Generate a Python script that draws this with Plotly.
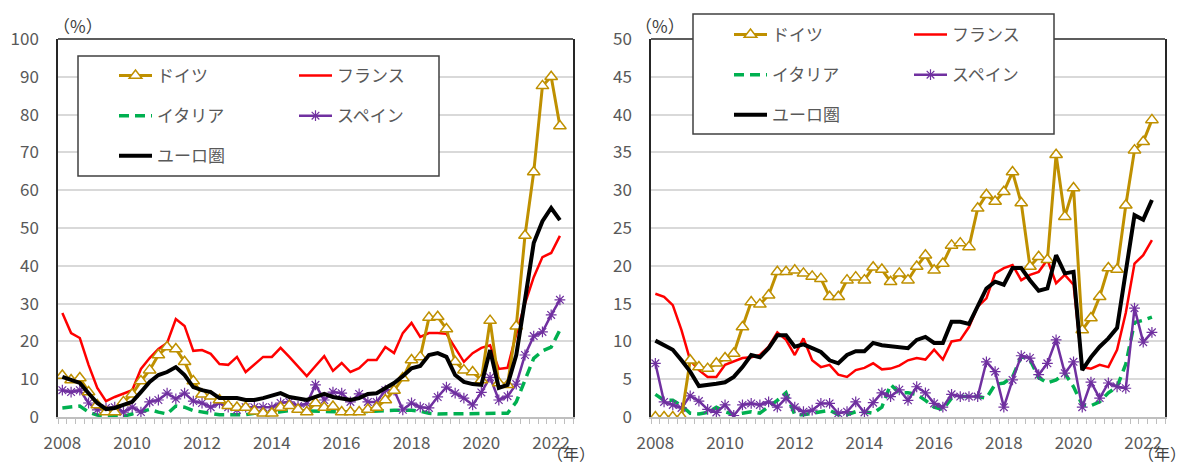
import plotly.graph_objects as go

# Quarterly observations, 2008Q1 - 2022Q2
quarters = [f"{y}Q{q}" for y in range(2008, 2023) for q in range(1, 5)][:58]
year_labels = ["2008", "2010", "2012", "2014", "2016", "2018", "2020", "2022"]

series_names = ["ドイツ", "フランス", "イタリア", "スペイン", "ユーロ圏"]

# Left panel (%)
germany_a = [11.0, 9.8, 10.3, 6.6, 3.2, 1.3, 1.3, 4.0, 6.0, 9.5,
             12.4, 16.4, 18.5, 18.0, 14.6, 9.5, 6.0, 5.5, 4.5, 3.0,
             2.5, 2.5, 1.5, 1.0, 1.0, 2.5, 3.0, 2.0, 1.3, 3.7,
             2.5, 2.8, 1.3, 1.3, 1.3, 2.0, 2.5, 4.5, 7.0, 10.3,
             15.1, 15.9, 26.3, 26.5, 23.3, 14.6, 12.4, 11.9, 9.8, 25.5,
             9.0, 8.5, 24.0, 48.0, 64.8, 87.6, 90.0, 77.0]
france_a = [27.5, 22.2, 20.9, 13.8, 7.7, 4.2, 5.3, 6.1, 7.1, 12.7,
            15.6, 18.0, 19.6, 25.9, 24.1, 17.5, 17.7, 16.7, 14.0, 13.8,
            15.9, 11.9, 14.0, 15.9, 15.9, 18.3, 15.9, 13.2, 10.8, 13.5,
            16.1, 12.2, 14.3, 11.9, 12.9, 15.1, 15.1, 18.5, 16.9, 22.2,
            24.9, 21.2, 22.2, 22.2, 22.0, 18.3, 14.6, 16.9, 18.3, 19.0,
            12.7, 13.0, 22.0, 30.0, 37.0, 42.3, 43.4, 47.9]
italy_a = [2.4, 2.6, 2.9, 1.3, 0.5, 0.2, 0.3, 0.2, 0.8, 1.3,
           2.0, 1.3, 0.8, 2.9, 2.6, 1.7, 1.3, 0.8, 0.6, 0.6,
           0.5, 0.6, 1.0, 1.0, 1.0, 1.4, 1.7, 1.7, 1.6, 1.5,
           1.5, 1.4, 1.3, 1.3, 1.3, 1.5, 1.7, 1.7, 1.8, 1.8,
           1.8, 1.5, 1.0, 0.8, 0.8, 0.8, 0.8, 0.8, 0.8, 0.8,
           0.8, 1.0, 4.0, 9.5, 15.5, 17.5, 18.5, 23.0]
spain_a = [7.1, 6.6, 7.1, 3.7, 1.9, 2.4, 2.6, 1.3, 2.6, 1.3,
           4.0, 4.5, 6.3, 4.8, 6.3, 4.2, 3.7, 2.6, 3.7, 2.6,
           1.9, 2.6, 2.6, 2.6, 2.6, 3.7, 4.0, 2.9, 3.5, 8.5,
           4.5, 6.6, 6.3, 4.0, 6.1, 4.0, 4.0, 7.1, 7.1, 1.9,
           3.7, 2.6, 2.4, 5.3, 7.9, 6.3, 5.0, 3.2, 6.5, 10.5,
           4.5, 5.5, 8.7, 16.4, 21.4, 22.5, 27.0, 31.0]
euro_a = [10.6, 9.8, 9.0, 6.3, 3.7, 2.1, 2.4, 3.2, 4.0, 6.6,
          9.3, 11.1, 11.9, 13.2, 11.1, 7.9, 7.1, 6.6, 5.0, 5.0,
          5.0, 4.5, 4.5, 5.0, 5.6, 6.3, 5.3, 5.0, 4.5, 5.3,
          6.1, 5.3, 5.0, 4.5, 5.0, 6.1, 6.3, 7.7, 9.0, 10.8,
          12.9, 13.5, 16.4, 16.9, 15.9, 11.1, 9.3, 8.7, 8.5, 17.7,
          7.7, 8.5, 16.4, 31.0, 46.0, 51.8, 55.3, 52.1]

# Right panel (%)
germany_b = [0.0, 0.0, 0.0, 0.0, 7.5, 6.6, 6.4, 7.1, 7.8, 8.4,
             11.9, 15.2, 14.9, 16.1, 19.2, 19.2, 19.4, 19.0, 18.6, 18.3,
             15.9, 15.9, 18.1, 18.5, 18.1, 19.8, 19.5, 17.9, 19.0, 18.1,
             19.9, 21.4, 19.4, 20.3, 22.7, 23.0, 22.5, 27.6, 29.4, 28.5,
             29.8, 32.4, 28.3, 19.9, 21.2, 20.8, 34.7, 26.5, 30.3, 11.5,
             13.1, 15.9, 19.7, 19.5, 28.0, 35.3, 36.4, 39.3]
france_b = [16.3, 15.9, 14.8, 11.5, 7.5, 6.2, 5.3, 5.3, 6.9, 7.3,
            7.8, 7.9, 8.2, 9.3, 11.2, 10.2, 8.2, 10.4, 7.5, 6.6,
            6.9, 5.6, 5.3, 6.2, 6.5, 7.1, 6.3, 6.4, 6.8, 7.5,
            7.8, 7.6, 8.9, 7.6, 10.0, 10.2, 11.9, 14.6, 15.7, 19.0,
            19.7, 20.1, 18.1, 18.8, 19.2, 20.8, 17.7, 18.8, 17.5, 6.6,
            6.4, 6.9, 6.6, 8.9, 13.8, 20.3, 21.4, 23.4]
italy_b = [3.0, 2.2, 2.2, 1.5, 0.5, 0.4, 0.6, 1.3, 0.7, 0.3,
           0.5, 0.7, 0.5, 1.3, 2.2, 3.2, 0.3, 0.3, 0.5, 0.7,
           0.9, 0.3, 0.3, 0.7, 0.7, 0.5, 1.3, 4.3, 3.2, 3.2,
           3.0, 2.2, 1.3, 1.0, 2.5, 2.7, 2.7, 2.7, 2.5, 4.3,
           4.5, 5.3, 8.0, 7.6, 5.2, 4.5, 4.9, 5.8, 4.0, 1.6,
           1.5, 2.0, 3.2, 4.0, 7.0, 12.5, 12.8, 13.2]
spain_b = [7.1, 2.0, 1.6, 1.2, 2.8, 2.1, 1.0, 0.6, 1.6, 0.2,
           1.6, 1.8, 1.6, 2.0, 1.3, 2.5, 1.3, 0.7, 0.9, 1.8,
           1.8, 0.5, 0.7, 2.0, 0.6, 1.9, 3.2, 2.7, 3.6, 2.2,
           4.0, 3.2, 1.8, 1.3, 3.0, 2.7, 2.7, 2.7, 7.3, 6.0,
           1.3, 4.9, 8.1, 7.8, 5.6, 7.1, 10.2, 5.8, 7.3, 1.3,
           4.6, 2.5, 4.5, 4.0, 3.8, 14.4, 9.9, 11.2]
euro_b = [10.1, 9.5, 8.9, 7.5, 6.0, 4.1, 4.2, 4.4, 4.6, 5.3,
          6.6, 8.2, 7.9, 9.1, 10.8, 10.8, 9.3, 9.6, 9.1, 8.6,
          7.5, 7.1, 8.2, 8.7, 8.7, 9.8, 9.5, 9.4, 9.3, 9.1,
          10.2, 10.6, 9.8, 9.8, 12.6, 12.6, 12.3, 14.6, 17.0, 17.9,
          17.5, 19.7, 19.7, 18.1, 16.7, 17.0, 21.4, 19.0, 19.2, 6.2,
          7.9, 9.3, 10.4, 11.8, 19.0, 26.7, 26.1, 28.7]

FONT = "Noto Sans CJK JP"
TEXT = "#595959"
GRID = "#d9d9d9"
W, H = 1189, 464

x_idx = list(range(len(quarters)))
year_pos = [quarters.index(f"{y}Q1") for y in year_labels]

styles = {
    "ドイツ": dict(line=dict(color="#BF9000", width=3),
                 mode="lines+markers",
                 marker=dict(symbol="triangle-up", size=11, color="white",
                             line=dict(color="#BF9000", width=1.5))),
    "フランス": dict(line=dict(color="#FF0000", width=2.5), mode="lines"),
    "イタリア": dict(line=dict(color="#00B050", width=3.5, dash="10px,6px"), mode="lines"),
    "スペイン": dict(line=dict(color="#7030A0", width=2.5),
                  mode="lines+markers",
                  marker=dict(symbol="asterisk", size=9, color="#7030A0",
                              line=dict(color="#7030A0", width=1.2))),
    "ユーロ圏": dict(line=dict(color="#000000", width=4), mode="lines"),
}

panels = [
    dict(xa="x", ya="y", data=[germany_a, france_a, italy_a, spain_a, euro_a],
         legs=("legend", "legend2")),
    dict(xa="x2", ya="y2", data=[germany_b, france_b, italy_b, spain_b, euro_b],
         legs=("legend3", "legend4")),
]

# draw order: Italy, Spain, France, Germany, Euro area on top
draw_order = [2, 3, 1, 0, 4]
col_of = {0: 0, 2: 0, 4: 0, 1: 1, 3: 1}

fig = go.Figure()
for p in panels:
    for k in draw_order:
        name = series_names[k]
        st = styles[name]
        fig.add_trace(go.Scatter(
            x=x_idx, y=p["data"][k], name=name, xaxis=p["xa"], yaxis=p["ya"],
            legend=p["legs"][col_of[k]], legendgroup=p["xa"] + name,
            legendrank=k, hoverinfo="skip", **st))

dom_a = [58 / W, 573 / W]
dom_b = [651 / W, 1165 / W]
dom_y = [(H - 417) / H, (H - 39) / H]

def xaxis_cfg(domain, anchor):
    return dict(domain=domain, anchor=anchor, range=[-0.5, 58.5],
                automargin=False,
                tickmode="array", tickvals=year_pos, ticktext=year_labels,
                ticks="outside", ticklen=5, tickcolor="rgba(0,0,0,0)",
                ticklabelstandoff=5,
                tickfont=dict(family=FONT, size=17, color=TEXT),
                showgrid=False, zeroline=False,
                showline=True, linecolor="#bfbfbf", linewidth=1.5,
                minor=dict(ticks="outside", ticklen=5, tickcolor="#bfbfbf",
                           tickwidth=1, tick0=-0.5, dtick=1, showgrid=False))

def yaxis_cfg(anchor, top, step):
    return dict(domain=dom_y, anchor=anchor, range=[0, top],
                automargin=False,
                tickmode="linear", tick0=0, dtick=step,
                ticks="", ticklabelstandoff=14,
                tickfont=dict(family=FONT, size=17, color=TEXT),
                showgrid=True, gridcolor=GRID, gridwidth=1.5, zeroline=False,
                showline=True, mirror=True, linecolor="#262626", linewidth=1.5)

legend_base = dict(bgcolor="rgba(0,0,0,0)", borderwidth=0,
                   font=dict(family=FONT, size=17, color=TEXT),
                   traceorder="grouped", tracegroupgap=15, itemwidth=33,
                   xanchor="left", yanchor="top", orientation="v",
                   itemclick=False, itemdoubleclick=False)

def leg(xpx, ypx):
    d = dict(legend_base)
    d.update(x=xpx / W, y=1 - ypx / H)
    return d

shapes = []
# top border of each plot area
for dom in (dom_a, dom_b):
    shapes.append(dict(type="line", xref="paper", yref="paper",
                       x0=dom[0], x1=dom[1], y0=dom_y[1], y1=dom_y[1],
                       line=dict(color="#262626", width=1.5), layer="above"))
# legend frames
for (x0, y0, x1, y1) in [(78, 56, 439, 176), (693, 14, 1054, 134)]:
    shapes.append(dict(type="rect", xref="paper", yref="paper",
                       x0=x0 / W, x1=x1 / W, y0=1 - y0 / H, y1=1 - y1 / H,
                       line=dict(color="#404040", width=1.5),
                       fillcolor="white", layer="above"))

annotations = []
for (xc, yc, txt) in [(78, 26, "（%）"), (660, 26, "（%）")]:
    annotations.append(dict(text=txt, xref="paper", yref="paper",
                            x=xc / W, y=1 - yc / H, showarrow=False,
                            xanchor="center", yanchor="middle",
                            font=dict(family=FONT, size=17, color="#404040")))
# unit label for the time axis, bottom-right of each panel
for xr in (597, 1188):
    annotations.append(dict(text="（年）", xref="paper", yref="paper",
                            x=xr / W, y=0, showarrow=False,
                            xanchor="right", yanchor="bottom", yshift=-3,
                            font=dict(family=FONT, size=16, color="#404040")))

fig.update_layout(
    width=W, height=H, autosize=False,
    margin=dict(l=0, r=0, t=0, b=0, pad=0),
    paper_bgcolor="white", plot_bgcolor="white",
    font=dict(family=FONT, color=TEXT),
    xaxis=xaxis_cfg(dom_a, "y"), yaxis=yaxis_cfg("x", 100, 10),
    xaxis2=xaxis_cfg(dom_b, "y2"), yaxis2=yaxis_cfg("x2", 50, 5),
    legend=leg(114, 58), legend2=leg(294, 58),
    legend3=leg(729, 17), legend4=leg(909, 17),
    shapes=shapes, annotations=annotations,
    showlegend=True,
)

fig.write_html("out.html")
